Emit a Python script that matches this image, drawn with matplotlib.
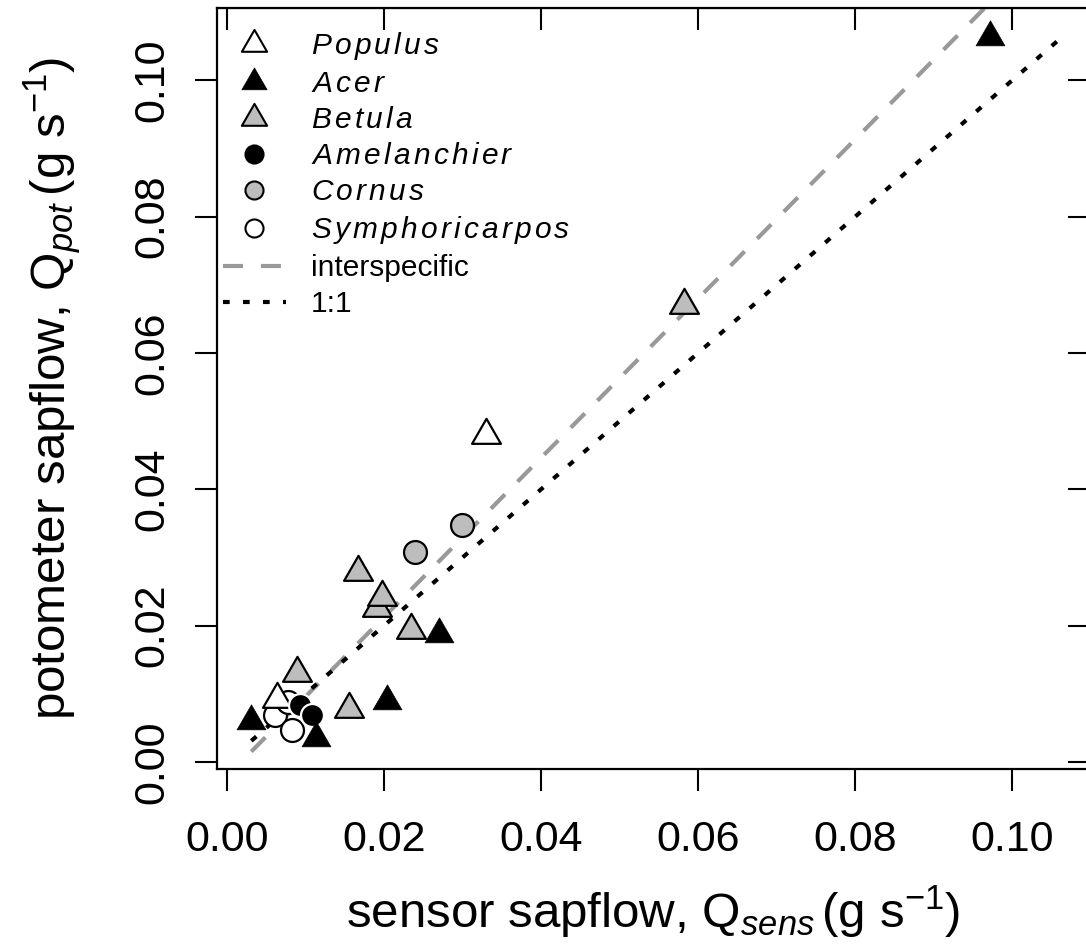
import numpy as np
import matplotlib
matplotlib.use("Agg")
import matplotlib.pyplot as plt
from matplotlib.lines import Line2D
from matplotlib.path import Path

plt.rcParams["font.family"] = ["Liberation Sans", "DejaVu Sans"]
plt.rcParams["mathtext.fontset"] = "custom"
plt.rcParams["mathtext.rm"] = "Liberation Sans"
plt.rcParams["mathtext.it"] = "Liberation Sans:italic"

# sensor (x) vs potometer (y) sapflow, g/s
populus_x = [0.0330, 0.0064]
populus_y = [0.0479, 0.0092]
acer_x = [0.0972, 0.0270, 0.0204, 0.0031, 0.0114]
acer_y = [0.1063, 0.0188, 0.0089, 0.0060, 0.0035]
betula_x = [0.0582, 0.0167, 0.0191, 0.0197, 0.0234, 0.0089, 0.0155]
betula_y = [0.0670, 0.0279, 0.0226, 0.0242, 0.0194, 0.0130, 0.0077]
amel_x = [0.0093, 0.0108]
amel_y = [0.0084, 0.0069]
cornus_x = [0.0299, 0.0239]
cornus_y = [0.0348, 0.0308]
symph_x = [0.0061, 0.0083, 0.0078]
symph_y = [0.0069, 0.0047, 0.0088]

fit_slope = 1.168
fit_intercept = -0.0021
ticks = [0.00, 0.02, 0.04, 0.06, 0.08, 0.10]

GREY = "#bdbdbd"
# equilateral triangle, centroid at origin (like R's pch 2/17/24)
TRI = Path([(-0.5, -0.2887), (0.5, -0.2887), (0.0, 0.5774), (-0.5, -0.2887)],
           [Path.MOVETO, Path.LINETO, Path.LINETO, Path.CLOSEPOLY])


def spaced(word, gap=0.13):
    return "$" + (r"\hspace{%g}" % gap).join(word) + "$"


fig = plt.figure(figsize=(10.86, 9.5), dpi=100)
ax = fig.add_axes([217 / 1086, (950 - 769) / 950, (1090 - 217) / 1086, (769 - 8) / 950])

all_x = populus_x + acer_x + betula_x + amel_x + cornus_x + symph_x
all_y = populus_y + acer_y + betula_y + amel_y + cornus_y + symph_y
lo, hi = min(all_x + all_y), max(all_x + all_y)
fx = np.array([min(all_x), max(all_x)])
ax.plot(fx, fit_slope * fx + fit_intercept, color="#999999", lw=3,
        ls=(0, (4.8, 4.3)), zorder=2)
ax.plot([lo, hi], [lo, hi], color="black", lw=3, ls=(0, (1.6, 3.2)), zorder=2)

tri_ms, circ_ms, mew = 24, 16.5, 1.6
ax.plot(symph_x, symph_y, "o", ms=circ_ms, mfc="white", mec="black", mew=mew, zorder=3)
ax.plot(populus_x, populus_y, ls="none", marker=TRI, ms=tri_ms, mfc="white", mec="black", mew=mew, zorder=4)
ax.plot(amel_x, amel_y, "o", ms=circ_ms, mfc="black", mec="white", mew=mew, zorder=5)
ax.plot(acer_x, acer_y, ls="none", marker=TRI, ms=tri_ms, mfc="black", mec="black", mew=0.5, zorder=6)
ax.plot(betula_x, betula_y, ls="none", marker=TRI, ms=tri_ms, mfc=GREY, mec="black", mew=mew, zorder=7)
ax.plot(cornus_x, cornus_y, "o", ms=circ_ms, mfc=GREY, mec="black", mew=mew, zorder=8)

ax.set_xlim(-0.00127, 0.1099)
ax.set_ylim(-0.00103, 0.1106)
for s in ax.spines.values():
    s.set_linewidth(1.6)

ax.set_xticks(ticks)
ax.set_yticks(ticks)
ax.set_xticklabels([f"{t:.2f}" for t in ticks])
ax.set_yticklabels([f"{t:.2f}" for t in ticks], rotation=90, va="center")
ax.tick_params(direction="out", length=16, width=1.5, labelsize=31)
ax.tick_params(axis="x", pad=21)
ax.tick_params(axis="y", pad=16)

top = ax.secondary_xaxis("top")
top.set_xticks(ticks)
top.tick_params(direction="in", length=16, width=1.5, labeltop=False)
right = ax.secondary_yaxis("right")
right.set_yticks(ticks)
right.tick_params(direction="in", length=16, width=1.5, labelright=False)

ax.set_xlabel(r"sensor sapflow, $\mathrm{Q}_{sens}\,(\mathrm{g\ s}^{-1})$", fontsize=35.5, labelpad=17)
ax.set_ylabel(r"potometer sapflow, $\mathrm{Q}_{pot}\,(\mathrm{g\ s}^{-1})$", fontsize=35.5, labelpad=36)

handles = [
    Line2D([], [], ls="none", marker=TRI, ms=21, mfc="white", mec="black", mew=1.5),
    Line2D([], [], ls="none", marker=TRI, ms=21, mfc="black", mec="black", mew=0.5),
    Line2D([], [], ls="none", marker=TRI, ms=21, mfc=GREY, mec="black", mew=1.5),
    Line2D([], [], ls="none", marker="o", ms=13, mfc="black", mec="black", mew=1.5),
    Line2D([], [], ls="none", marker="o", ms=13, mfc=GREY, mec="black", mew=1.5),
    Line2D([], [], ls="none", marker="o", ms=13, mfc="white", mec="black", mew=1.5),
    Line2D([], [], color="#999999", lw=3, ls=(0, (4.8, 4.3))),
    Line2D([], [], color="black", lw=3, ls=(0, (1.6, 3.2))),
]
labels = [spaced("Populus"), spaced("Acer"), spaced("Betula"), spaced("Amelanchier"),
          spaced("Cornus"), spaced("Symphoricarpos"), "interspecific", "1:1"]
ax.legend(handles, labels, loc="upper left", bbox_to_anchor=(0, 0.979), frameon=False,
          fontsize=21.5, handlelength=2.1, handletextpad=0.85, labelspacing=0.27,
          borderaxespad=0, borderpad=0.2)

fig.savefig("out.png", dpi=100)
